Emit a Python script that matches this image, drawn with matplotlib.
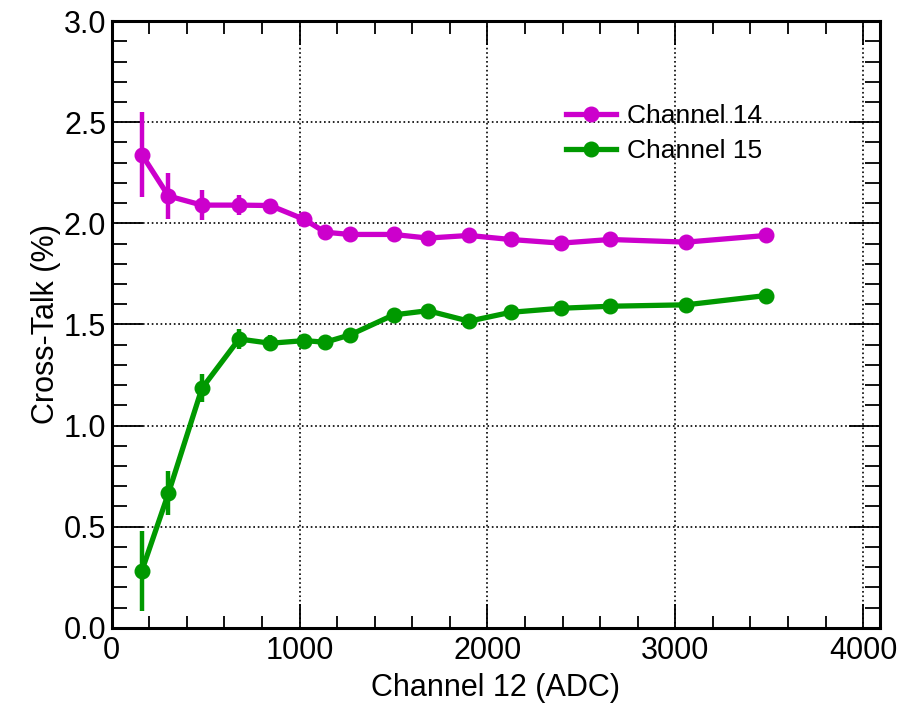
import numpy as np
import matplotlib
matplotlib.use("Agg")
import matplotlib.pyplot as plt
from matplotlib.ticker import MultipleLocator, FormatStrFormatter
from matplotlib.lines import Line2D

plt.rcParams['font.family'] = ['Liberation Sans', 'DejaVu Sans']

# ADC value of channel 12 at each measurement point
adc = [160, 302, 480, 678, 844, 1026, 1136, 1268, 1500, 1683, 1902, 2124, 2391, 2654, 3058, 3484]

# cross-talk (%) seen in channel 14
ch14 = [2.34, 2.135, 2.09, 2.09, 2.088, 2.019, 1.956, 1.945, 1.945, 1.927, 1.94, 1.92, 1.902, 1.92, 1.907, 1.94]
ch14_err = [0.21, 0.115, 0.075, 0.05, 0.03, 0.02, 0.015, 0.015, 0.015, 0.012, 0.012, 0.012, 0.01, 0.01, 0.01, 0.01]

# cross-talk (%) seen in channel 15
ch15 = [0.281, 0.666, 1.184, 1.428, 1.407, 1.42, 1.412, 1.448, 1.547, 1.568, 1.516, 1.56, 1.58, 1.59, 1.597, 1.643]
ch15_err = [0.2, 0.107, 0.07, 0.05, 0.04, 0.02, 0.015, 0.015, 0.015, 0.012, 0.012, 0.012, 0.01, 0.01, 0.01, 0.01]

magenta = '#cc00cc'
green = '#009900'

fig = plt.figure(figsize=(9.16, 7.03), dpi=100)
ax = fig.add_axes([0.122, 0.107, 0.8387, 0.863])

handles = []
for y, yerr, col, name in [(ch14, ch14_err, magenta, 'Channel 14'),
                           (ch15, ch15_err, green, 'Channel 15')]:
    ax.errorbar(adc, y, yerr=yerr, color=col, lw=3.8, elinewidth=3.2,
                capsize=0, marker='o', ms=10.5, zorder=3)
    handles.append(Line2D([], [], color=col, lw=3.8, marker='o', ms=10.5, label=name))

ax.set_xlim(0, 4090)
ax.set_ylim(0, 3.0)

# ROOT-like axes: ticks inside on all four sides, dotted grid
ax.xaxis.set_major_locator(MultipleLocator(1000))
ax.xaxis.set_minor_locator(MultipleLocator(200))
ax.yaxis.set_major_locator(MultipleLocator(0.5))
ax.yaxis.set_minor_locator(MultipleLocator(0.1))
ax.yaxis.set_major_formatter(FormatStrFormatter('%.1f'))
ax.tick_params(which='both', direction='in', top=True, right=True, width=1.3, labelsize=22)
ax.tick_params(which='major', axis='x', length=17, pad=6)
ax.tick_params(which='minor', axis='x', length=9)
ax.tick_params(which='major', axis='y', length=22, pad=4)
ax.tick_params(which='minor', axis='y', length=11)
ax.grid(True, which='major', ls=':', color='black', lw=1.2)
for s in ax.spines.values():
    s.set_linewidth(2.2)

ax.set_xlabel('Channel 12 (ADC)', fontsize=22, labelpad=5)
ax.set_ylabel('Cross-Talk (%)', fontsize=22, labelpad=2)

ax.legend(handles=handles, loc='upper left', bbox_to_anchor=(0.591, 0.863),
          frameon=False, fontsize=19, handlelength=1.9, handletextpad=0.42,
          labelspacing=0.42, borderpad=0, borderaxespad=0)

fig.savefig('out.png', dpi=100)
